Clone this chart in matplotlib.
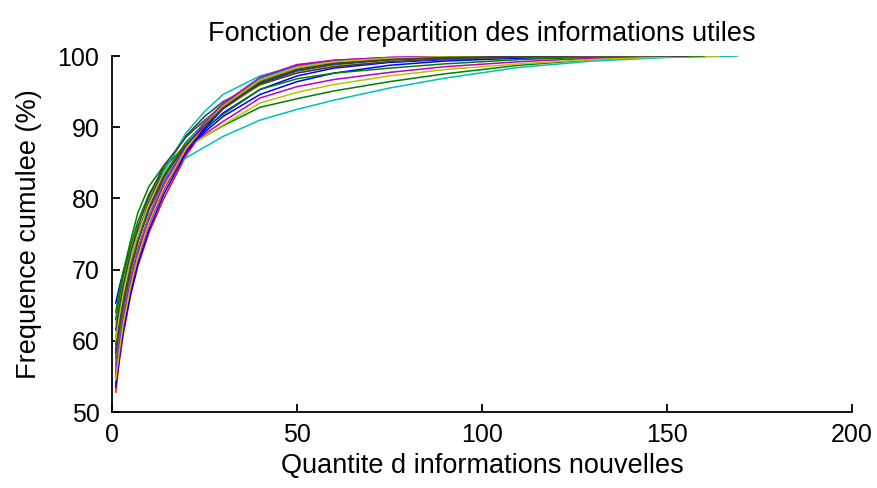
import numpy as np
import matplotlib
matplotlib.use("Agg")
import matplotlib.pyplot as plt

plt.rcParams['font.family'] = ['Liberation Sans', 'DejaVu Sans']

# MATLAB default colour order (b, g, r, c, m, y, k)
COLORS = [(0, 0, 1), (0, 0.5, 0), (1, 0, 0), (0, 0.75, 0.75),
          (0.75, 0, 0.75), (0.75, 0.75, 0), (0.25, 0.25, 0.25)]

x_nodes = [1, 2, 3, 5, 7, 10, 14, 20, 25, 30, 40, 50, 60, 75, 90, 110, 130, 150]

# cumulative frequency (%) per curve at x_nodes, and x where it ends at 100
curve_01 = [65.3, 67.6, 69.6, 72.8, 75.5, 78.8, 82.4, 86.6, 89.3, 91.5, 94.6, 96.4, 97.6, 98.7, 99.3, 99.7, 99.9, 100]
curve_02 = [64.0, 67.0, 69.6, 74.0, 78.0, 81.7, 84.6, 87.1, 88.7, 90.2, 92.8, 94.0, 95.1, 96.4, 97.5, 98.7, 99.5, 99.9]
curve_03 = [52.8, 57.2, 60.8, 66.3, 70.5, 75.2, 80.0, 86.0, 89.8, 92.8, 96.5, 98.4, 99.2, 99.7, 99.9, 100, 100, 100]
curve_04 = [60.5, 63.8, 66.8, 71.5, 75.2, 79.3, 83.0, 85.7, 87.2, 88.7, 91.0, 92.5, 93.8, 95.5, 96.9, 98.4, 99.3, 99.8]
curve_05 = [58.8, 62.3, 65.3, 70.2, 74.0, 78.4, 82.6, 86.7, 89.0, 90.8, 94.1, 95.7, 96.7, 97.7, 98.5, 99.2, 99.7, 100]
curve_06 = [62.5, 65.6, 68.3, 72.6, 76.2, 80.2, 83.8, 87.0, 88.7, 90.3, 93.4, 94.9, 96.0, 97.2, 98.1, 98.9, 99.5, 99.9]
curve_07 = [59.5, 63.0, 66.0, 71.0, 75.0, 79.6, 84.0, 88.8, 91.5, 93.6, 96.2, 97.8, 98.7, 99.4, 99.7, 99.9, 100, 100]
curve_08 = [57.5, 61.0, 64.0, 68.8, 72.5, 77.0, 81.5, 86.6, 89.6, 92.0, 95.3, 97.2, 98.3, 99.1, 99.5, 99.8, 99.95, 100]
curve_09 = [63.0, 66.2, 69.0, 73.3, 76.8, 80.6, 84.2, 87.6, 89.8, 91.8, 95.3, 96.8, 97.6, 98.3, 98.9, 99.5, 99.85, 100]
curve_10 = [55.0, 59.0, 62.5, 67.8, 72.0, 76.6, 81.4, 86.8, 90.3, 93.0, 96.6, 98.4, 99.2, 99.6, 99.85, 99.95, 100, 100]
curve_11 = [57.0, 61.0, 64.5, 69.8, 74.0, 78.8, 83.8, 89.2, 92.2, 94.6, 97.2, 98.6, 99.3, 99.7, 99.9, 100, 100, 100]
curve_12 = [54.0, 58.2, 61.8, 67.2, 71.5, 76.3, 81.2, 86.7, 90.2, 93.0, 96.9, 98.7, 99.4, 99.8, 99.9, 100, 100, 100]
curve_13 = [60.0, 63.5, 66.5, 71.3, 75.0, 79.2, 83.5, 87.8, 90.3, 92.5, 95.9, 97.7, 98.6, 99.3, 99.6, 99.85, 100, 100]
curve_14 = [61.5, 64.8, 67.7, 72.3, 76.0, 80.3, 84.6, 88.6, 91.0, 93.0, 96.0, 97.6, 98.5, 99.2, 99.6, 99.85, 100, 100]
curve_15 = [53.5, 57.6, 61.2, 66.6, 70.8, 75.6, 80.6, 86.4, 89.8, 92.6, 96.2, 98.0, 98.9, 99.5, 99.8, 99.95, 100, 100]
curve_16 = [58.2, 61.8, 64.9, 70.0, 74.0, 78.6, 83.2, 87.9, 90.6, 93.0, 96.4, 98.1, 99.0, 99.5, 99.8, 99.95, 100, 100]
curve_17 = [56.5, 60.3, 63.6, 68.8, 73.0, 77.6, 82.4, 87.4, 90.5, 93.2, 96.7, 98.5, 99.2, 99.7, 99.9, 100, 100, 100]
curve_18 = [56.0, 59.9, 63.3, 68.5, 72.7, 77.4, 82.3, 87.6, 90.8, 93.4, 96.8, 98.5, 99.2, 99.7, 99.9, 100, 100, 100]
curve_19 = [55.5, 59.5, 62.9, 68.2, 72.4, 77.1, 82.0, 87.3, 90.6, 93.3, 97.0, 98.8, 99.4, 99.8, 99.95, 100, 100, 100]
curve_20 = [54.5, 58.6, 62.2, 67.6, 71.8, 76.6, 81.5, 87.0, 90.3, 93.0, 96.6, 98.4, 99.2, 99.7, 99.9, 100, 100, 100]
curve_21 = [58.5, 62.0, 65.0, 70.0, 74.0, 78.5, 83.0, 87.5, 90.2, 92.7, 96.2, 98.1, 98.9, 99.5, 99.8, 99.95, 100, 100]

curves = [curve_01, curve_02, curve_03, curve_04, curve_05, curve_06, curve_07,
          curve_08, curve_09, curve_10, curve_11, curve_12, curve_13, curve_14,
          curve_15, curve_16, curve_17, curve_18, curve_19, curve_20, curve_21]
end_x = [158, 167, 146, 169, 155, 164, 150, 152, 160, 144, 148, 141, 150, 152,
         147, 150, 146, 149, 143, 151, 156]

fig = plt.figure(figsize=(8.77, 4.88), dpi=100)
ax = fig.add_axes([0.1277, 0.1557, 0.8438, 0.7295])

for i, (ys, xe) in enumerate(zip(curves, end_x)):
    xs = x_nodes + [xe]
    yv = ys + [100]
    ax.plot(xs, yv, color=COLORS[i % 7], linewidth=1.1)

ax.set_xlim(0, 200)
ax.set_ylim(50, 100)
ax.set_xticks([0, 50, 100, 150, 200])
ax.set_yticks([50, 60, 70, 80, 90, 100])
ax.spines['top'].set_visible(False)
ax.spines['right'].set_visible(False)
for s in ('left', 'bottom'):
    ax.spines[s].set_linewidth(1.3)
ax.tick_params(direction='in', length=6, width=1.3, labelsize=18)
ax.tick_params(axis='x', pad=8)
ax.tick_params(axis='y', pad=9)

ax.set_title("Fonction de repartition des informations utiles", fontsize=19.5, pad=11)
ax.set_xlabel("Quantite d informations nouvelles", fontsize=19.5, labelpad=4)
ax.set_ylabel("Frequence cumulee (%)", fontsize=19.5, labelpad=11)

fig.savefig("out.png", dpi=100)
plt.close(fig)
